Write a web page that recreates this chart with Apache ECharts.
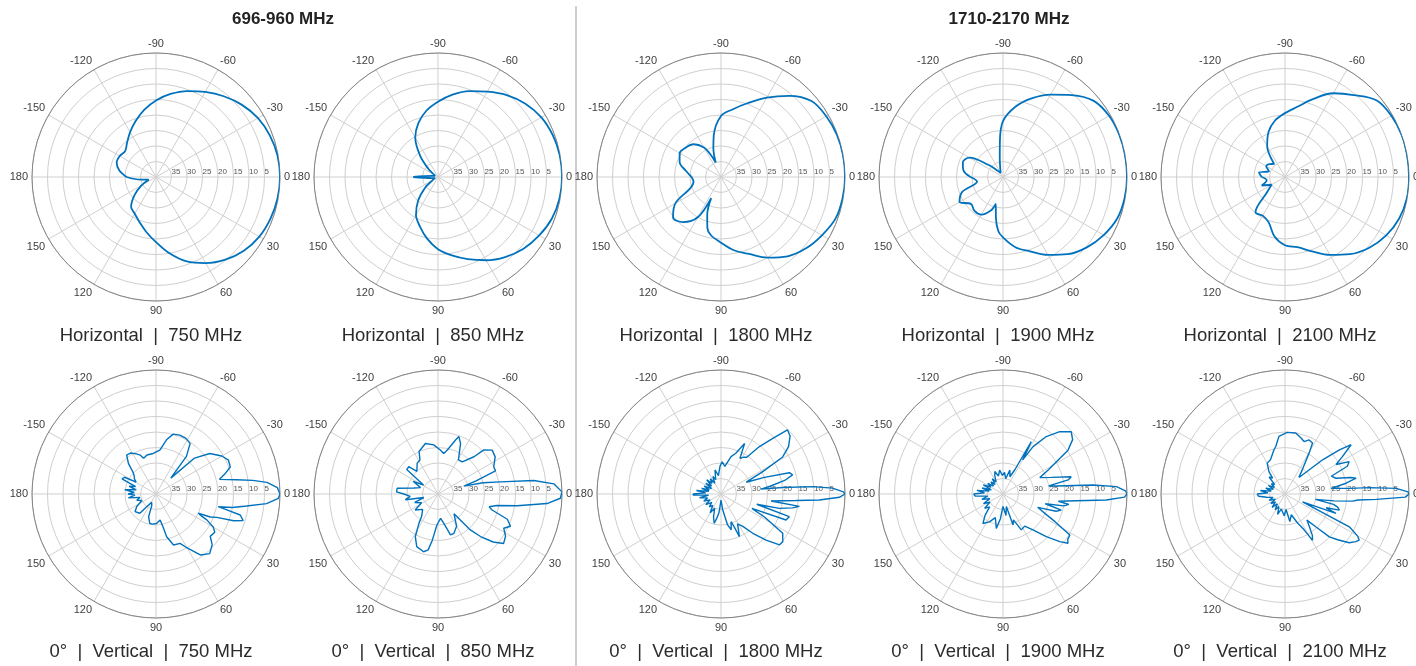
<!DOCTYPE html>
<html><head><meta charset="utf-8">
<script src="https://cdn.jsdelivr.net/npm/echarts@6.0.0/dist/echarts.min.js"></script>
<style>html,body{margin:0;padding:0;background:#fff}#c{width:1416px;height:666px}</style>
</head><body><div id="c"></div>
<script>
// Angles in degrees (-180..180, 0 = boresight), attenuation in dB below peak
const ANG10 = [-180,-170,-160,-150,-140,-130,-120,-110,-100,-90,-80,-70,-60,-50,-40,-30,-20,-10,0,10,20,30,40,50,60,70,80,90,100,110,120,130,140,150,160,170,180];

const H750 = [30.5,28,26.5,26.5,27,25.5,23.3,20.8,18,15.3,12.8,10.5,8.3,6,3.8,2,0.9,0.2,0,0.2,0.7,1.5,3,5.2,7.9,11,15,19,22,24.5,26.3,27.5,31,34.5,37.5,35,30.5];
const H850 = [32,38,39,38.5,36,31,25.3,21.5,18.3,15.7,13,10.5,8.2,5.5,3.2,1.5,0.6,0.1,0,0.2,0.9,2.3,4,6.3,9,11.8,14.3,16.7,19.8,23,25.8,30,34.5,38,39,38,32];
const H1800_ANG = [-180,-170,-160,-150,-140,-130,-120,-115,-110,-105,-100,-90,-80,-70,-60,-50,-40,-30,-20,-10,0,10,20,30,40,50,60,70,80,90,100,105,110,115,120,130,140,150,160,170,180];
const H1800 = [30.5,28.5,25.8,24.6,25.2,26.2,29,32,35,30.5,26.5,20.3,17.8,14.6,10.4,5.8,1.9,0.8,0.2,0,0,0.2,0.7,2.4,4.2,6.6,10,13.6,16,18.8,21,23,27,32.5,25,21,19.8,23,29.5,31,30.5];
const H1900_ANG = [-180,-170,-160,-150,-140,-130,-120,-110,-100,-95,-90,-80,-70,-60,-50,-40,-30,-20,-10,0,10,20,30,40,50,60,70,80,90,95,100,105,110,120,130,140,150,160,170,180];
const H1900 = [29.5,27,26.2,27.5,34,37.5,38.5,37.5,34,28.5,22,17,13,9.3,5.5,1.8,0.5,0.1,0,0,0.2,0.8,2.5,4.7,7.5,11,14.5,17,20.5,22.5,26.8,31,28.5,26,25.7,26.5,23.8,26,31.5,29.5];
const H2100 = [32.5,31.5,34.5,33,33.5,34.5,28.5,24.5,21.5,19.4,17,13.2,8.8,5.5,1.5,0.4,0,0,0,0.1,0.8,2.3,4.5,7.5,11,14.5,17,18,20.5,24.5,25.6,25.2,32.5,35,32,34,32.5];

const V750_ANG = [-180,-176,-172,-168,-164,-160,-156,-152,-149,-145,-141,-137,-132,-127,-122,-116,-112,-109,-103,-94,-85,-79,-74,-68,-62,-56,-51,-47,-43,-37,-30,-25,-20,-16,-13,-10,-8,-6,-3,0,2,5,7.5,10,11.5,12.5,14,17,19,21,23,24.5,26,27,30,33,38,42,48,54,60,64,71,76,78,81,89,97,102,108,110,118,126,130,140,147,155,162,168,172,175,177,180];
const V750 = [31,33,29.8,33.5,31,33,28,28.5,32.5,31.5,31,30,26.7,24.3,24.4,25.6,26.5,27.8,27.1,26.9,25.8,22.2,19.9,19.5,19.6,20.3,24.4,33,23,18.3,15.5,14.2,14.5,17,19,13.6,8.5,4,0.8,0,0.5,4.2,10.5,15,19.5,17,12,10.6,13.5,19,21,25,23.5,21.6,18.7,17.4,17.8,15.6,14.1,15.7,19.9,22.3,22.6,25.8,29.2,31.5,30.5,30.2,30.3,32.3,36,37,35,31.9,31.2,32.6,35,33.5,34.7,31,30.5,33.2,31];

const V850_ANG = [-180,-177,-172,-166,-160,-153,-148,-142,-137,-133,-129,-124,-118,-114,-104,-95,-87,-82,-78,-72,-70,-66,-59,-53,-46,-44,-39,-33,-26,-22,-19,-17,-14,-11,-8,-5,-1,2,5,8.4,11,14,16.5,20,24,27.5,32,37,41,45,48,51,60,68,73,79,84,92,97,100,104,112,118,123,126,135,145,152,160,166,170,175,180];
const V850 = [29,26.6,26.7,32,34,31,34.5,27.2,27.1,30,30,28,27.6,25,23.2,24.1,25.8,26.8,25.5,21.7,20.3,22.1,27.2,27,23.3,19.6,17.5,18,20,20,27,31.3,25,19.5,8.8,2.5,0,0.5,4.7,14.2,20.6,23,21.8,16.2,14.4,16.1,14.3,13.5,16.4,20.6,24.4,31.8,28,26.3,26.2,30.4,32.1,30,25,21.7,20.8,21.7,24.4,28.7,31,33,31,34,32,35.3,29.3,31,29];

const V1800_ANG = [-180,-176,-172,-168,-164,-160,-155,-150,-145,-140,-135,-130,-125,-120,-115,-110,-104,-98,-92,-88,-82,-75,-70,-65,-62,-58,-55,-51,-47,-44,-40,-35,-31,-28,-25,-21,-17.3,-15,-12,-9,-7,-6,-4.6,-3,-1,0,1.6,3.5,5,8,9,11,13.8,16,18.4,21.8,25,28,32.5,37.7,41,45.6,51,56,61,66.7,68,70,74,78,84,90,96,100,103,108,114,120,126,132,138,145,152,158,164,170,175,178,180];
const V1800 = [31,35,32,36,33.5,36,34,36.5,34,36,33.5,35.5,34,36,33.8,35,32,34,31,29.6,31,27.5,26,22,27,26,25.5,20.3,15.5,10.2,10.9,13.4,16.8,25,31,25,16.9,16.1,19,24,27,20,10.3,4,0.5,0,1.8,8.2,15.7,23.7,14.4,16.5,20.6,28,16.8,17.4,29,24,16.4,14.8,15,19.2,23.7,27.4,29,25,28.4,30.5,28,29.8,35,38,34,32,30.3,32.2,35,33,35.5,34.4,36,34,36,34,35.5,33,36,31,31];

const V1900_ANG = [-180,-176,-172,-168,-164,-160,-155,-150,-145,-140,-135,-130,-125,-120,-114,-110,-104,-98,-92,-86,-80,-74,-68,-64,-61.6,-60,-57.6,-53,-47.7,-42.4,-38,-34,-30,-28,-24,-19,-14.2,-12.2,-10,-8.5,-5.7,-3.7,-1.5,0,1.5,3.3,5.2,7.5,9,11,13,15.5,18,21,25,28,31.6,35,37.2,40,44.6,50.2,56,63,68,72,75,82,90,96,101,108,116,124.3,130,136,142,148,154,160,166,172,176,180];
const V1900 = [30.5,34,31.5,35.5,33,36,33,35.5,34,36,34.5,36,34,35.5,33.5,32.3,34,32.2,34,33,35,32,34,31.2,20.8,27.3,21.9,16.8,12.8,10.2,11.5,14.7,21.4,23.5,27,23.5,17.3,18.5,25,22.6,10.8,3.3,0.5,0,0.8,6.6,16.2,22,18.5,20,26,20.5,22,28,25,21,14.7,14.5,13.7,16.1,20.4,24.9,27.5,27,31,29.5,35.8,33,36,32,28.7,32,30,28.5,31,34,32.5,35,33,35.5,33,35,31,30.5];

const V2100_ANG = [-180,-176,-172,-168,-163,-158,-153,-148,-143,-138,-133,-128,-125.6,-120,-113,-104,-101,-96,-88,-80,-74,-70,-66,-61.6,-59.5,-55,-50,-47.6,-42.3,-39,-36.7,-33,-30,-26.8,-24,-21,-17.2,-14,-12.5,-10,-7,-5,-4.3,-2.9,-1,0,1.5,3.4,4.7,6,8,10,12,14,16.5,18.5,20.9,23.9,27,30,31.9,34,37.2,41,44,46.8,50,53,56.5,59.3,62,67,73,80,86,92,97,104,110,116,122,128,134,140,146,152,158,164,170,175,180];
const V2100 = [31,34.5,32,35.5,33.5,36,34,36,34.5,35.5,32.5,33.5,31.1,28.5,28,25.3,24.4,21.3,20.1,20,21.2,22,20.9,21.3,24.7,30,33,31.7,23.6,17.4,13.4,18,21,16.8,18,24,22.8,18,16.5,20,25,19.1,12.7,4.1,0.3,0,1.2,10.5,16.4,18,24,30,24,22.5,21.7,26,22.4,33.8,16.7,13,11.8,12.5,14,17.5,20.1,25.5,29,27,24,22.6,27,30,33,31,35,33,33.1,35,33,35.5,34,36,34,36,34.5,36.5,34.5,36,34,31.5,31];

const SUBTITLES = [
  'Horizontal  |  750 MHz','Horizontal  |  850 MHz','Horizontal  |  1800 MHz','Horizontal  |  1900 MHz','Horizontal  |  2100 MHz',
  '0°  |  Vertical  |  750 MHz','0°  |  Vertical  |  850 MHz','0°  |  Vertical  |  1800 MHz','0°  |  Vertical  |  1900 MHz','0°  |  Vertical  |  2100 MHz'
];
const GROUP_TITLES = ['696-960 MHz','1710-2170 MHz'];
const ANGLE_TICKS = [0,30,60,90,120,150,180,-150,-120,-90,-60,-30];
const RADIUS_TICKS = [35,30,25,20,15,10,5];

const COLS = [156,438,721,1003,1285];
const ROWS = [177,494];
const R = 124;

const panels = [
  {a:ANG10, v:H750, smooth:true},
  {a:ANG10, v:H850, smooth:true},
  {a:H1800_ANG, v:H1800, smooth:true},
  {a:H1900_ANG, v:H1900, smooth:true},
  {a:ANG10, v:H2100, smooth:true},
  {a:V750_ANG, v:V750, smooth:false},
  {a:V850_ANG, v:V850, smooth:false},
  {a:V1800_ANG, v:V1800, smooth:false},
  {a:V1900_ANG, v:V1900, smooth:false},
  {a:V2100_ANG, v:V2100, smooth:false}
];

const FONT = '"Liberation Sans", Arial, Helvetica, sans-serif';
const polar = [], angleAxis = [], radiusAxis = [], series = [], graphic = [];

panels.forEach((p, i) => {
  const cx = COLS[i % 5], cy = ROWS[Math.floor(i / 5)];
  polar.push({center:[cx, cy], radius:R});
  angleAxis.push({
    polarIndex:i, type:'value', min:0, max:360, interval:30, startAngle:0, clockwise:true, z:2,
    axisLine:{show:true, lineStyle:{color:'#858585', width:1}},
    axisTick:{show:false},
    axisLabel:{show:true, margin:4, color:'#404040', fontSize:11, fontFamily:FONT,
      formatter:(val) => { if (val >= 360) return ''; const d = val > 180 ? val - 360 : val; return ANGLE_TICKS.indexOf(d) >= 0 ? String(d) : ''; }},
    splitLine:{show:true, lineStyle:{color:'#cfcfcf', width:1}}
  });
  radiusAxis.push({
    polarIndex:i, type:'value', min:0, max:40, interval:5, inverse:true, z:1,
    axisLine:{show:false}, axisTick:{show:false},
    axisLabel:{show:true, fontSize:8, color:'#555', fontFamily:FONT, align:'left', margin:1,
      formatter:(val) => RADIUS_TICKS.indexOf(val) >= 0 ? String(val) : ''},
    splitLine:{show:true, lineStyle:{color:'#cfcfcf', width:1}}
  });
  series.push({
    type:'line', coordinateSystem:'polar', polarIndex:i, z:5,
    data:p.a.map((ang, j) => [p.v[j], ang < 0 ? ang + 360 : ang]),
    showSymbol:false, smooth:p.smooth ? 0.35 : false, silent:true,
    lineStyle:{color:'#0072BD', width:p.smooth ? 1.8 : 1.4}
  });
  graphic.push({type:'text', x:cx - 5, y:(i < 5 ? 336 : 652), silent:true,
    style:{text:SUBTITLES[i], font:'18.5px ' + FONT, fill:'#2b2b2b', align:'center', verticalAlign:'middle'}});
});

graphic.push({type:'line', silent:true, shape:{x1:576, y1:6, x2:576, y2:666}, style:{stroke:'#bdbdbd', lineWidth:1.5}});
graphic.push({type:'text', x:283, y:19, silent:true, style:{text:GROUP_TITLES[0], font:'bold 17px ' + FONT, fill:'#222', align:'center', verticalAlign:'middle'}});
graphic.push({type:'text', x:1009, y:19, silent:true, style:{text:GROUP_TITLES[1], font:'bold 17px ' + FONT, fill:'#222', align:'center', verticalAlign:'middle'}});

const chart = echarts.init(document.getElementById('c'), null, {renderer:'canvas'});
chart.setOption({animation:false, backgroundColor:'#fff', polar, angleAxis, radiusAxis, series, graphic});
</script></body></html>
